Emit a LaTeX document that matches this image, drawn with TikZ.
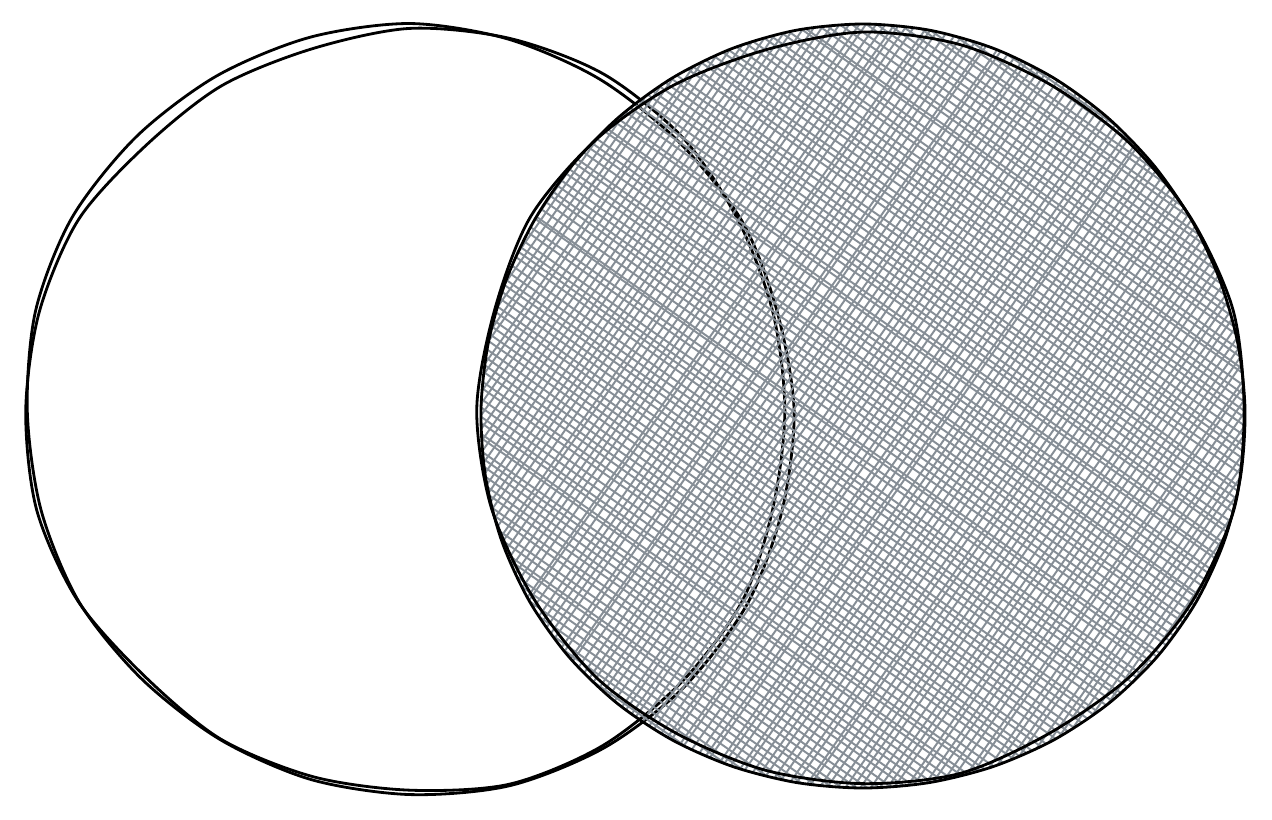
\documentclass[tikz,border=0pt]{standalone}
\usepackage{tikz}
\usetikzlibrary{calc}
\definecolor{inkblack}{HTML}{000000}
\definecolor{hatchgray}{HTML}{868E96}
\tikzstyle{outline} = [
  line width=1.6pt, color=inkblack, line join=round, line cap=round
]
\tikzstyle{hatch} = [
  line width=1.1pt, color=hatchgray
]

\begin{document}
\begin{tikzpicture}[x=0.02cm, y=-0.02cm]
  \pgfmathsetseed{11}
  \useasboundingbox (0,0) rectangle (1272,819);
  \coordinate (leftc)  at (410,411);
  \coordinate (rightc) at (863,409);

  % left set, two loose strokes
  \begin{scope}[shift={(leftc)}]
    \draw[outline] plot[smooth cycle, domain=0:345, samples=24]
      (\x:{385+4*sin(2*\x)+6*rnd-3});
    \draw[outline] plot[smooth cycle, domain=0:345, samples=24]
      (\x:{381-5*cos(3*\x)+6*rnd-3});
  \end{scope}

  % hatching clipped to the right set
  \begin{scope}
    \clip[shift={(rightc)}] plot[smooth cycle, domain=0:350, samples=36]
      (\x:{382+3*sin(3*\x)});
    \begin{scope}[shift={(rightc)}, rotate=-35]
      \foreach \d in {-420,-406,...,420} {
        \draw[hatch] (-430,{\d+4*rnd-2}) -- (430,{\d+4*rnd-2});
        \draw[hatch] (-430,{\d+6+4*rnd-2}) -- (430,{\d+6+4*rnd-2});
        \draw[hatch] ({\d+4*rnd-2},-430) -- ({\d+4*rnd-2},430);
        \draw[hatch] ({\d+6+4*rnd-2},-430) -- ({\d+6+4*rnd-2},430);
      }
    \end{scope}
  \end{scope}

  % right set, two loose strokes
  \begin{scope}[shift={(rightc)}]
    \draw[outline] plot[smooth cycle, domain=0:350, samples=36]
      (\x:{382+3*sin(3*\x)});
    \draw[outline] plot[smooth cycle, domain=0:345, samples=24]
      (\x:{379+5*cos(2*\x)+6*rnd-3});
  \end{scope}
\end{tikzpicture}
\end{document}
